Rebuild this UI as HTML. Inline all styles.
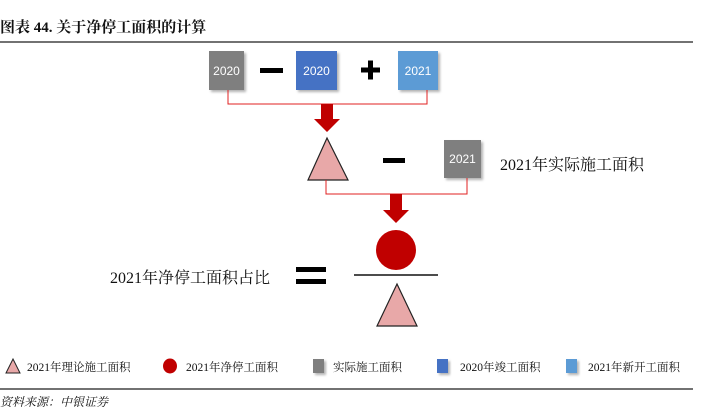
<!DOCTYPE html>
<html><head><meta charset="utf-8"><style>
html,body{margin:0;padding:0;background:#fff;width:718px;height:415px;overflow:hidden}
svg{display:block}
text{font-family:"Liberation Serif","Noto Serif CJK SC",serif}
.b{font-family:"Liberation Sans",sans-serif;font-size:12px;fill:#fff;text-anchor:middle}
</style></head><body>
<svg width="718" height="415" viewBox="0 0 718 415">
<defs><filter id="s" x="-20%" y="-20%" width="150%" height="150%"><feDropShadow dx="2" dy="2" stdDeviation="1.2" flood-color="#000" flood-opacity="0.3"/></filter></defs>
<text x="0" y="32" font-size="15" font-weight="bold" fill="#111">图表 44. 关于净停工面积的计算</text>
<line x1="0" y1="42" x2="693" y2="42" stroke="#444" stroke-width="1.5"/>
<rect x="209" y="51" width="35" height="39" fill="#7f7f7f" filter="url(#s)"/>
<text class="b" x="226.5" y="75">2020</text>
<rect x="260" y="68" width="23" height="5" fill="#000"/>
<rect x="296" y="51" width="41" height="39" fill="#4472c4" filter="url(#s)"/>
<text class="b" x="316.5" y="75">2020</text>
<rect x="361" y="67.5" width="19" height="5" fill="#000"/>
<rect x="368" y="60.5" width="5" height="19" fill="#000"/>
<rect x="398" y="51" width="40" height="39" fill="#5b9bd5" filter="url(#s)"/>
<text class="b" x="418" y="75">2021</text>
<polyline points="228,90 228,104 427,104 427,90" fill="none" stroke="#e02020" stroke-width="1"/>
<polygon points="321,104 333,104 333,119 340,119 327,132 314,119 321,119" fill="#c00000"/>
<polygon points="327,138 348,180 308,180" fill="#e8a8a8" stroke="#222" stroke-width="1.2"/>
<rect x="383" y="158" width="22" height="5" fill="#000"/>
<rect x="444" y="140" width="37" height="38" fill="#7f7f7f" filter="url(#s)"/>
<text class="b" x="462.5" y="163">2021</text>
<text x="500" y="170" font-size="16" fill="#111">2021年实际施工面积</text>
<polyline points="326,180 326,194 467,194 467,178" fill="none" stroke="#e02020" stroke-width="1"/>
<polygon points="390,194 402,194 402,210 409,210 396,223 383,210 390,210" fill="#c00000"/>
<circle cx="396" cy="250" r="20" fill="#c00000"/>
<line x1="354" y1="275" x2="438" y2="275" stroke="#111" stroke-width="1.5"/>
<polygon points="397,284 417,326 377,326" fill="#e8a8a8" stroke="#222" stroke-width="1.2"/>
<text x="110" y="283" font-size="16" fill="#111">2021年净停工面积占比</text>
<rect x="296" y="267" width="30" height="5" fill="#000"/>
<rect x="296" y="279" width="30" height="5" fill="#000"/>
<polygon points="13,359 20,373 6,373" fill="#e8a8a8" stroke="#222" stroke-width="1"/>
<text x="27" y="371" font-size="11.5" fill="#111">2021年理论施工面积</text>
<ellipse cx="170" cy="366" rx="7" ry="7.5" fill="#c00000"/>
<text x="186" y="371" font-size="11.5" fill="#111">2021年净停工面积</text>
<rect x="313" y="359" width="11" height="14" fill="#7f7f7f" filter="url(#s)"/>
<text x="333" y="371" font-size="11.5" fill="#111">实际施工面积</text>
<rect x="437" y="359" width="11" height="14" fill="#4472c4" filter="url(#s)"/>
<text x="460" y="371" font-size="11.5" fill="#111">2020年竣工面积</text>
<rect x="566" y="359" width="11" height="14" fill="#5b9bd5" filter="url(#s)"/>
<text x="588" y="371" font-size="11.5" fill="#111">2021年新开工面积</text>
<line x1="0" y1="389" x2="693" y2="389" stroke="#444" stroke-width="1.5"/>
<text x="0" y="406" font-size="12" font-style="italic" fill="#111">资料来源：中银证券</text>
</svg>
</body></html>
